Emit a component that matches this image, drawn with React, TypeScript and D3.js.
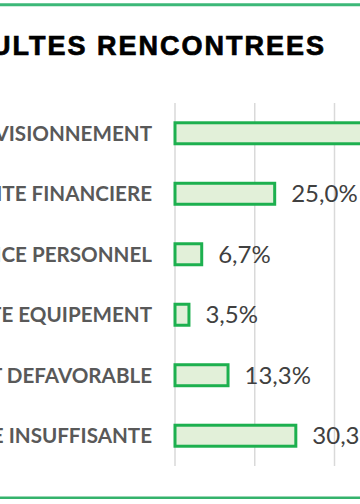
import React from 'react';
import * as d3 from 'd3';

// valeurs (la premiere barre sort du cadre)
const categories = [
  "PROBLEME D'APPROVISIONNEMENT",
  'CAPACITE FINANCIERE',
  'INSUFFISANCE PERSONNEL',
  'VETUSTE EQUIPEMENT',
  'CLIMAT DEFAVORABLE',
  'DEMANDE INSUFFISANTE',
];
const values = [52.6, 25.0, 6.7, 3.5, 13.3, 30.3];
const gridTicks = [0, 20, 40, 60, 80];
const title = 'DIFFICULTES RENCONTREES';

const width = 360;
const height = 504;

const fmt = (v: number) => v.toFixed(1).replace('.', ',') + '%';

const App: React.FC = () => {
  const x = d3.scaleLinear().domain([0, 80]).range([175, 494]);
  const y = d3
    .scaleBand<string>()
    .domain(categories)
    .range([103, 466])
    .paddingInner(0.653)
    .paddingOuter(0.327);
  const bw = y.bandwidth();

  return (
    <svg
      width={width}
      height={height}
      style={{ position: 'fixed', left: 0, top: 0, background: '#fff' }}
    >
      <rect x={0} y={0} width={width} height={height} fill="#fff" />
      {/* filets verts haut et bas */}
      <line x1={0} x2={width} y1={4.8} y2={4.8} stroke="#3cb878" strokeWidth={3} />
      <line x1={0} x2={width} y1={497.7} y2={497.7} stroke="#34b36c" strokeWidth={2.5} />

      <text
        x={326}
        y={55}
        textAnchor="end"
        fontFamily="'Liberation Sans', Arial, sans-serif"
        fontWeight="bold"
        fontSize={27}
        letterSpacing={2}
        fill="#000"
        stroke="#000"
        strokeWidth={0.7}
      >
        {title}
      </text>

      {gridTicks.map((t) => (
        <line
          key={t}
          x1={x(t)}
          x2={x(t)}
          y1={103}
          y2={466}
          stroke="#d9d9d9"
          strokeWidth={1.5}
        />
      ))}

      {categories.map((c, i) => {
        const cy = (y(c) || 0) + bw / 2;
        return (
          <g key={c}>
            <rect
              x={x(0)}
              y={y(c)}
              width={x(values[i]) - x(0)}
              height={bw}
              fill="#e2f0d9"
              stroke="#1db04f"
              strokeWidth={3}
            />
            <text
              x={152}
              y={cy + 7.4}
              textAnchor="end"
              fontFamily="Lato, sans-serif"
              fontWeight="bold"
              fontSize={20.6}
              fill="#595959"
            >
              {c}
            </text>
            <text
              x={x(values[i]) + 16.5}
              y={cy + 8.6}
              fontFamily="Lato, sans-serif"
              fontSize={24}
              fill="#404040"
            >
              {fmt(values[i])}
            </text>
          </g>
        );
      })}
    </svg>
  );
};

export default App;
